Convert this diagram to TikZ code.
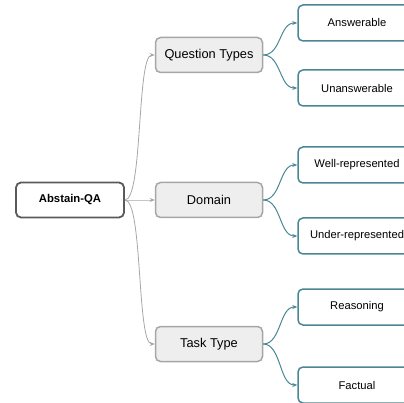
\documentclass[tikz,border=0pt]{standalone}
\usepackage{fontspec}
\setmainfont{Liberation Sans}
\usetikzlibrary{arrows.meta}
\definecolor{rootline}{HTML}{5A5A5A}
\definecolor{midline}{HTML}{A6A6A6}
\definecolor{midfill}{HTML}{EEEEEE}
\definecolor{leafline}{HTML}{4A8795}
\begin{document}
\begin{tikzpicture}[x=1pt,y=-1pt,
  rootbox/.style={draw=rootline,line width=1.8pt,fill=white,rounded corners=5pt,
    minimum width=108pt,minimum height=35pt,font=\fontsize{11.3}{13}\selectfont\bfseries},
  midbox/.style={draw=midline,line width=1.5pt,fill=midfill,rounded corners=5pt,
    minimum width=107pt,minimum height=35pt,font=\fontsize{12.8}{15}\selectfont},
  leafbox/.style={draw=leafline,line width=1.5pt,fill=white,rounded corners=5pt,
    minimum width=118pt,minimum height=36pt,font=\fontsize{11.2}{13}\selectfont},
  rootedge/.style={draw=midline,line width=0.8pt,-{Stealth[length=5pt,width=4pt]}},
  leafedge/.style={draw=leafline,line width=1pt,-{Stealth[length=5pt,width=4pt]}}]
\useasboundingbox (0,0) rectangle (404,403);
\clip (0,0) rectangle (404,403);

% root and branches
\node[rootbox] (root) at (70,200) {Abstain-QA};
\node[midbox] (qtypes) at (209,55) {Question Types};
\node[midbox] (domain) at (209,200) {Domain};
\node[midbox] (task) at (209,344) {Task Type};

% leaves
\node[leafbox] (answ) at (357,23) {Answerable};
\node[leafbox] (unansw) at (357,88) {Unanswerable};
\node[leafbox] (well) at (357,165) {Well-represented};
\node[leafbox] (under) at (357,236) {Under-represented};
\node[leafbox] (reason) at (357,307) {Reasoning};
\node[leafbox] (fact) at (357,385) {Factual};

\foreach \m in {qtypes,domain,task} {
\draw[rootedge] (root.east) .. controls +(18,0) and +(-18,0) .. (\m.west);}
\foreach \m/\l in {qtypes/answ,qtypes/unansw,domain/well,domain/under,task/reason,task/fact} {
\draw[leafedge] (\m.east) .. controls +(18,0) and +(-18,0) .. (\l.west);}
\end{tikzpicture}
\end{document}
